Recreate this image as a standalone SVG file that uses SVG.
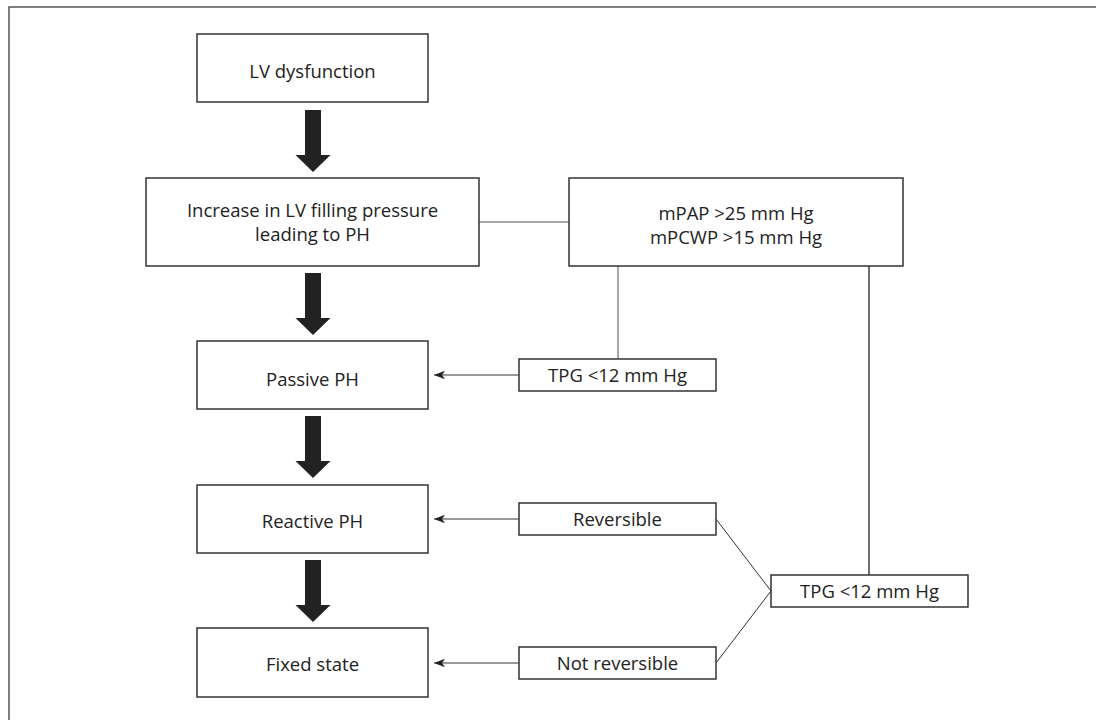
<svg xmlns="http://www.w3.org/2000/svg" width="1096" height="720" viewBox="0 0 1096 720">
  <defs>
    <style>
      .box { fill: #ffffff; stroke: #333333; stroke-width: 1.5; }
      .txt { font-family: "Open Sans", "Noto Sans", "Liberation Sans", sans-serif; font-size: 18.5px; fill: #222222; text-anchor: middle; }
      .thick { fill: #222222; stroke: none; }
      .thin { stroke: #333333; stroke-width: 1.2; fill: none; }
      .gray { stroke: #888888; stroke-width: 1.5; fill: none; }
      .dark { stroke: #222222; stroke-width: 1.3; fill: none; }
      .diag { stroke: #333333; stroke-width: 1; fill: none; }
    </style>
    <marker id="ah" markerWidth="12" markerHeight="10" refX="11" refY="5" orient="auto" markerUnits="userSpaceOnUse">
      <path d="M0,0.8 L11,5 L0,9.2 L3,5 Z" fill="#222222"/>
    </marker>
  </defs>

  <rect x="0" y="0" width="1096" height="720" fill="#ffffff"/>
  <path d="M9,720 V7 H1096" fill="none" stroke="#555555" stroke-width="1.5"/>

  <g id="connectors">
    <!-- thick downward arrows -->
    <path class="thick" d="M305,110 H321 V155 H330.5 L313,172 L295.5,155 H305 Z"/>
    <path class="thick" d="M305,273 H321 V318 H330.5 L313,335 L295.5,318 H305 Z"/>
    <path class="thick" d="M305,416 H321 V461 H330.5 L313,478 L295.5,461 H305 Z"/>
    <path class="thick" d="M305,560 H321 V605 H330.5 L313,622 L295.5,605 H305 Z"/>
    <!-- link lines -->
    <line class="gray" x1="479" y1="222" x2="569" y2="222"/>
    <line class="gray" x1="618" y1="266" x2="618" y2="359"/>
    <line class="dark" x1="869" y1="266" x2="869" y2="575"/>
    <line class="diag" x1="716" y1="519" x2="771" y2="591"/>
    <line class="diag" x1="716" y1="663" x2="771" y2="591"/>
    <!-- thin arrows to the left -->
    <line class="thin" x1="519" y1="375" x2="434" y2="375" marker-end="url(#ah)"/>
    <line class="thin" x1="519" y1="519" x2="434" y2="519" marker-end="url(#ah)"/>
    <line class="thin" x1="519" y1="663" x2="434" y2="663" marker-end="url(#ah)"/>
  </g>

  <g id="lv-dysfunction">
    <rect class="box" x="197" y="34" width="231" height="68"/>
    <text class="txt" x="312.5" y="78">LV dysfunction</text>
  </g>

  <g id="increase-lv">
    <rect class="box" x="146" y="178" width="333" height="88"/>
    <text class="txt" x="312.5" y="217">Increase in LV filling pressure</text>
    <text class="txt" x="312.5" y="241">leading to PH</text>
  </g>

  <g id="mpap">
    <rect class="box" x="569" y="178" width="334" height="88"/>
    <text class="txt" x="736" y="220">mPAP &gt;25 mm Hg</text>
    <text class="txt" x="736" y="244">mPCWP &gt;15 mm Hg</text>
  </g>

  <g id="passive-ph">
    <rect class="box" x="197" y="341" width="231" height="68"/>
    <text class="txt" x="312.5" y="386">Passive PH</text>
  </g>

  <g id="tpg1">
    <rect class="box" x="519" y="359" width="197" height="32"/>
    <text class="txt" x="617.5" y="382">TPG &lt;12 mm Hg</text>
  </g>

  <g id="reactive-ph">
    <rect class="box" x="197" y="485" width="231" height="68"/>
    <text class="txt" x="312.5" y="528">Reactive PH</text>
  </g>

  <g id="reversible">
    <rect class="box" x="519" y="503" width="197" height="32"/>
    <text class="txt" x="617.5" y="526">Reversible</text>
  </g>

  <g id="tpg2">
    <rect class="box" x="771" y="575" width="197" height="32"/>
    <text class="txt" x="869.5" y="598">TPG &lt;12 mm Hg</text>
  </g>

  <g id="fixed-state">
    <rect class="box" x="197" y="628" width="231" height="69"/>
    <text class="txt" x="312.5" y="671">Fixed state</text>
  </g>

  <g id="not-reversible">
    <rect class="box" x="519" y="647" width="197" height="32"/>
    <text class="txt" x="617.5" y="670">Not reversible</text>
  </g>
</svg>
